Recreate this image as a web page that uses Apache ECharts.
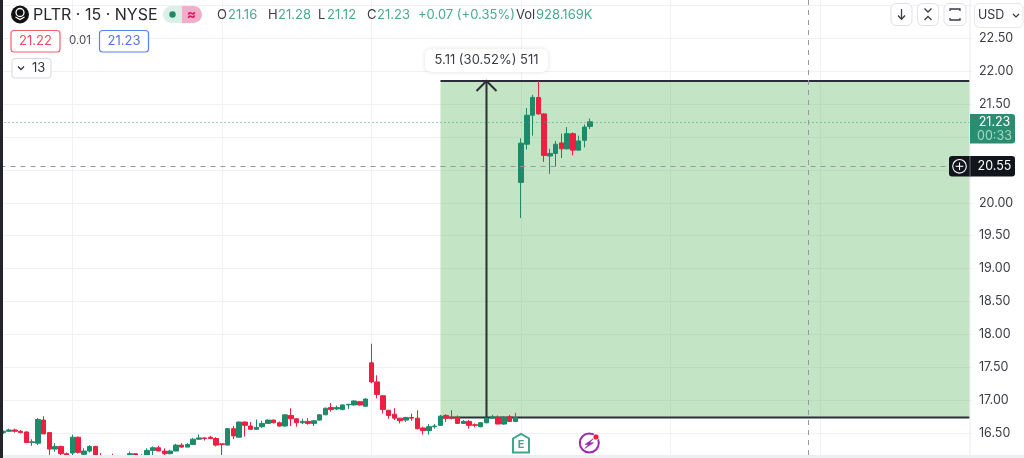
<!DOCTYPE html>
<html><head><meta charset="utf-8">
<style>html,body{margin:0;padding:0;background:#fff;overflow:hidden}#c{width:1024px;height:458px;filter:blur(0.35px)}</style>
<script src="https://cdn.jsdelivr.net/npm/echarts@6/dist/echarts.min.js"></script>
</head><body><div id="c"></div>
<script>
const opens=[16.51,16.53,16.55,16.53,16.52,16.36,16.35,16.70,16.51,16.26,
16.30,16.19,16.20,16.44,16.18,16.23,16.30,16.15,16.08,16.13,
16.05,16.05,16.14,16.19,16.15,16.16,16.24,16.28,16.23,16.19,
16.23,16.32,16.29,16.33,16.41,16.43,16.44,16.42,16.34,16.32,
16.57,16.44,16.67,16.61,16.56,16.60,16.65,16.70,16.66,16.61,
16.77,16.72,16.66,16.68,16.65,16.70,16.78,16.89,16.87,16.86,
16.93,16.93,16.98,16.91,17.57,17.28,17.07,16.85,16.79,16.73,
16.70,16.74,16.73,16.58,16.54,16.60,16.62,16.77,16.74,16.74,
16.65,16.68,16.63,16.60,16.66,16.73,16.74,16.64,16.75,16.68,
20.31,20.89,21.33,21.60,21.35,20.71,20.75,20.91,20.82,21.05,
20.80,20.95,21.16];
const closes=[16.53,16.55,16.53,16.51,16.36,16.37,16.71,16.49,16.26,16.30,
16.19,16.17,16.44,16.21,16.23,16.30,16.17,16.12,16.06,16.10,
16.03,16.08,16.19,16.15,16.12,16.24,16.28,16.23,16.19,16.23,
16.32,16.29,16.33,16.41,16.43,16.42,16.42,16.32,16.33,16.57,
16.46,16.67,16.62,16.56,16.59,16.65,16.70,16.66,16.61,16.78,
16.72,16.66,16.68,16.65,16.69,16.78,16.88,16.86,16.89,16.93,
16.94,16.99,16.93,17.02,17.28,17.09,16.86,16.77,16.73,16.69,
16.74,16.73,16.57,16.54,16.60,16.61,16.76,16.73,16.73,16.65,
16.68,16.62,16.62,16.66,16.73,16.75,16.64,16.74,16.68,16.74,
20.905,21.33,21.60,21.35,20.72,20.75,20.89,20.82,21.05,20.80,
20.94,21.15,21.23];
const lows=[16.49,16.52,16.51,16.50,16.36,16.31,16.32,16.49,16.17,16.22,
16.17,16.14,16.16,16.19,16.15,16.21,16.15,16.08,16.03,16.07,
16.00,16.03,16.10,16.10,16.09,16.14,16.16,16.23,16.17,16.18,
16.23,16.28,16.29,16.33,16.40,16.39,16.41,16.30,16.15,16.32,
16.41,16.44,16.45,16.55,16.55,16.58,16.65,16.65,16.60,16.60,
16.61,16.60,16.64,16.63,16.61,16.69,16.78,16.83,16.85,16.85,
16.87,16.92,16.92,16.90,17.26,17.03,16.80,16.72,16.70,16.65,
16.67,16.69,16.56,16.48,16.48,16.57,16.61,16.67,16.71,16.65,
16.64,16.57,16.59,16.59,16.65,16.72,16.64,16.63,16.67,16.67,
19.77,20.81,21.02,21.34,20.62,20.44,20.55,20.68,20.81,20.72,
20.80,20.84,21.12];
const highs=[16.54,16.57,16.57,16.55,16.53,16.41,16.73,16.76,16.51,16.35,
16.31,16.21,16.48,16.45,16.27,16.32,16.31,16.20,16.12,16.19,
16.06,16.10,16.22,16.20,16.18,16.27,16.30,16.31,16.27,16.25,
16.34,16.35,16.35,16.43,16.48,16.44,16.46,16.44,16.34,16.58,
16.61,16.68,16.68,16.67,16.71,16.69,16.71,16.71,16.68,16.79,
16.88,16.73,16.72,16.73,16.70,16.79,16.89,16.96,16.92,16.94,
16.94,17.00,16.99,17.03,17.86,17.38,17.08,16.85,16.88,16.73,
16.75,16.80,16.85,16.60,16.64,16.64,16.78,16.79,16.85,16.77,
16.70,16.70,16.65,16.67,16.74,16.78,16.77,16.76,16.78,16.81,
20.98,21.44,21.64,21.85,21.36,20.82,20.94,21.05,21.15,21.07,
21.02,21.19,21.28];
const slotCount=169;
const categories=Array.from({length:slotCount},(_,i)=>String(i));
const yTickValues=[16.5,17,17.5,18,18.5,19,19.5,20,20.5,21,21.5,22,22.5,23];
const yLabelValues=[16.5,17,17.5,18,18.5,19,19.5,20,20.5,21,21.5,22,22.5];
const dayLineSlots=[12,38,64,90,116,142];
const measureLow=16.74, measureHigh=21.85;
const measureFromSlot=76, measureToSlot=168, measureArrowSlot=84;
const lastPrice=21.23, crossPrice=20.55, crossSlot=140;

const UP='#1d8a6b', DOWN='#ee1f40', INK='#2b2e36', TXT='#4aa88c';
const FONT='Inter, "Noto Sans", sans-serif';
const candles=opens.map((o,i)=>[o,closes[i],lows[i],highs[i]]);

function T(text,x,y,fill,size,align,weight){return {type:'text',z:110,style:{text,x,y,fill,font:(weight||400)+' '+size+'px '+FONT,align:align||'left',verticalAlign:'middle'}};}
function R(x,y,w,h,fill,stroke,r,lw,extra){return Object.assign({type:'rect',z:100,shape:{x,y,width:w,height:h,r:r||0},style:{fill:fill||'transparent',stroke:stroke||null,lineWidth:lw||1}},extra||{});}
function P(points,stroke,lw,fill){return {type:fill?'polygon':'polyline',z:101,shape:{points},style:{stroke:stroke,lineWidth:lw||1.5,fill:fill||null}};}
function C(cx,cy,r,fill,stroke,lw){return {type:'circle',z:101,shape:{cx,cy,r},style:{fill:fill||'transparent',stroke:stroke||null,lineWidth:lw||1}};}

const g=[
 R(0,0,3,458,'#23252b'),
 R(3,455,1021,3,'#eceef2'),
 {type:'line',z:50,shape:{x1:970,y1:0,x2:970,y2:455},style:{stroke:'#e9ebef',lineWidth:1}},
 // symbol header
 C(20,14.5,9,'#111'),C(20,12.5,4,null,'#fff',1.3),P([[15.5,17],[20,19.5],[24.5,17]],'#fff',1.3),
 T('PLTR · 15 · NYSE',33,15,'#26282e',16),
 R(163,6,19,17,'#d9efe7',null,[8.5,0,0,8.5]),R(182,6,20,17,'#f1aec8',null,[0,8.5,8.5,0]),
 C(172.5,14.5,3.2,'#1d8a6b'),T('≈',191.5,14.5,'#de1560',14,'center',700),
 T('O',217,15,'#3a3d44',13),T('21.16',228,15,TXT,13),
 T('H',268,15,'#3a3d44',13),T('21.28',278,15,TXT,13),
 T('L',318,15,'#3a3d44',13),T('21.12',327,15,TXT,13),
 T('C',367,15,'#3a3d44',13),T('21.23',377,15,TXT,13),
 T('+0.07 (+0.35%)',418,15,TXT,13),
 T('Vol',516,15,'#3a3d44',13),T('928.169K',536,15,TXT,13),
 // bid/ask row
 R(11,30.5,49,21.5,'#fff','#f5616f',3,1.2),T('21.22',35.5,41,'#f2495c',13,'center'),
 T('0.01',80,41,'#4a4d55',11.5,'center'),
 R(99.5,30.5,49,21.5,'#fff','#5b82f5',3,1.2),T('21.23',124,41,'#4d76ee',13,'center'),
 R(12,58.5,39,19.5,'#fff','#d7dae0',3,1),
 P([[18,66.5],[21,69.5],[24,66.5]],'#33363d',1.3),T('13',32,68.5,'#33363d',13),
 // measure label
 R(425,49,123,23,'#fff',null,6,1,{style:{fill:'#fff',shadowBlur:4,shadowColor:'rgba(0,0,0,0.13)'}}),
 T('5.11 (30.52%) 511',486.5,60.5,'#3a3d44',13,'center'),
 // toolbar
 R(891,3.5,21,22,'#fff','#dfe1e8',5,1),
 P([[901.5,9],[901.5,19]],'#3a3d44',1.3),P([[898,15.5],[901.5,19.3],[905,15.5]],'#3a3d44',1.3),
 R(917.5,3.5,21,22,'#fff','#dfe1e8',5,1),
 P([[924.5,8.5],[928,12],[931.5,8.5]],'#3a3d44',1.3),P([[924.5,20],[928,16.5],[931.5,20]],'#3a3d44',1.3),
 R(944,3.5,22,22,'#fff','#dfe1e8',5,1),
 P([[950,11],[950,9],[960,9],[960,11]],'#3a3d44',1.3),P([[950,18],[950,20],[960,20],[960,18]],'#3a3d44',1.3),
 R(974.5,3.5,48.5,24,'#fff','#e4e6eb',5,1),
 T('USD',978,15.5,'#33363d',12.5),P([[1013,14],[1016,17],[1019,14]],'#33363d',1.2),
 // price tags
 R(970,114,45,29.5,'#2a8c70',null,[0,3,3,0]),
 T('21.23',994.5,122.5,'#ffffff',12.5,'center'),T('00:33',994.5,136,'#a6d8c6',12.5,'center'),
 R(949,156,66,20.5,'#12151c',null,3),
 {type:'line',z:101,shape:{x1:970,y1:156,x2:970,y2:176.5},style:{stroke:'#6b6e75',lineWidth:1}},
 C(959.5,166.3,6.8,null,'#fff',1.1),
 P([[955.7,166.3],[963.3,166.3]],'#fff',1.1),P([[959.5,162.5],[959.5,170.1]],'#fff',1.1),
 T('20.55',994.5,166.5,'#ffffff',12.5,'center'),
 // earnings icon
 P([[513,438.5],[521,434],[529,438.5],[529,452.5],[513,452.5]],'#3fa58b',2,'#fff'),
 T('E',521,444.5,'#3fa58b',11,'center',700),
 // lightning icon
 C(589.3,443,9.5,'#fff','#9c27b0',2),
 P([[593.5,438.5],[585,444.5],[588.6,444.5],[584.8,448.5],[593.5,442.8],[589.6,442.8]],'#9c27b0',0.6,'#9c27b0'),
 C(596,437,3,'#f01e3c','#fff',0.7)
];

const chart=echarts.init(document.getElementById('c'),null,{renderer:'canvas'});
chart.setOption({
 animation:false,backgroundColor:'#fff',
 textStyle:{fontFamily:FONT},
 grid:{left:0.5,right:51.5,top:0,bottom:3,containLabel:false},
 xAxis:{type:'category',data:categories,boundaryGap:true,axisLine:{show:false},axisTick:{show:false},axisLabel:{show:false},splitLine:{show:false}},
 yAxis:{type:'value',position:'right',min:16.17,max:23.08,scale:true,
  axisLine:{show:false},
  axisTick:{show:false,customValues:yTickValues},
  axisLabel:{customValues:yLabelValues,margin:6.5,color:'#3a3d44',fontSize:12.5,lineHeight:15,padding:[2,0,0,0],fontFamily:FONT,formatter:v=>Number(v).toFixed(2)},
  splitLine:{show:true,customValues:yTickValues,lineStyle:{color:'#eff1f5',width:1}}},
 series:[
  {type:'line',data:[],z:1,silent:true,markLine:{silent:true,z:1,symbol:'none',label:{show:false},lineStyle:{color:'#eff1f5',width:1,type:'solid'},data:dayLineSlots.map(s=>({xAxis:s}))}},
  {type:'custom',z:2,silent:true,clip:false,data:[[measureFromSlot,measureToSlot,measureArrowSlot,measureLow,measureHigh]],encode:{x:[0,1],y:[3,4]},
   renderItem(p,api){
    const a=api.coord([api.value(0),api.value(4)]),b=api.coord([api.value(1),api.value(3)]),m=api.coord([api.value(2),api.value(4)]);
    const ink={stroke:INK,lineWidth:2,fill:null};
    return {type:'group',children:[
     {type:'rect',shape:{x:a[0],y:a[1],width:b[0]-a[0],height:b[1]-a[1]},style:{fill:'rgba(76,175,80,0.33)'}},
     {type:'line',shape:{x1:a[0],y1:a[1],x2:b[0],y2:a[1]},style:ink},
     {type:'line',shape:{x1:a[0],y1:b[1],x2:b[0],y2:b[1]},style:ink},
     {type:'line',shape:{x1:m[0],y1:a[1],x2:m[0],y2:b[1]},style:ink},
     {type:'polyline',shape:{points:[[m[0]-10,a[1]+10],[m[0],a[1]],[m[0]+10,a[1]+10]]},style:ink}
    ]};
   }},
  {type:'candlestick',z:3,barWidth:5,clip:true,data:candles,
   itemStyle:{color:UP,color0:DOWN,borderColor:UP,borderColor0:DOWN,borderColorDoji:UP,borderWidth:1},
   markLine:{silent:true,z:4,symbol:'none',label:{show:false},data:[
    {yAxis:lastPrice,lineStyle:{color:'#3f9c80',type:[1,3],width:1}},
    {yAxis:crossPrice,lineStyle:{color:'#9598a1',type:[5,5],width:1}},
    {xAxis:crossSlot,lineStyle:{color:'#9598a1',type:[5,5],width:1}}
   ]}}
 ],
 graphic:g
});
</script></body></html>
